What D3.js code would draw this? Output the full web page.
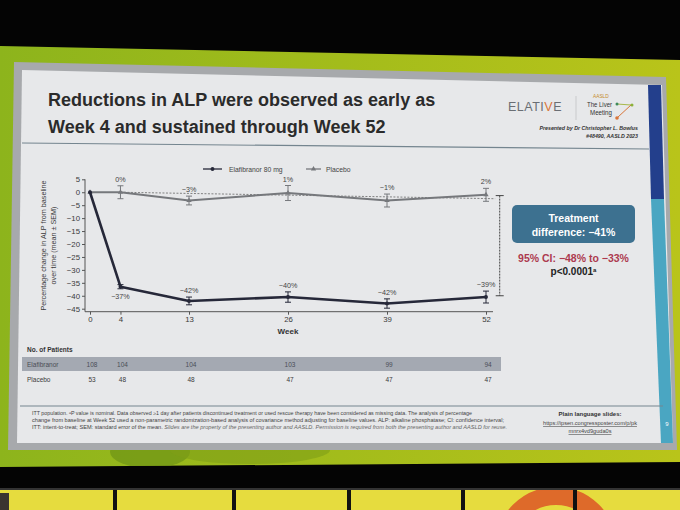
<!DOCTYPE html>
<html>
<head>
<meta charset="utf-8">
<script src="https://cdn.jsdelivr.net/npm/d3@7"></script>
<style>
  body { margin: 0; background: #000; }
  svg { display: block; font-family: "Liberation Sans", Arial, sans-serif; }
</style>
</head>
<body>
<div id="slide"></div>
<script>
// chart data
const weeks = [0, 4, 13, 26, 39, 52];
const elafMean = [0, -36.5, -42, -40.5, -43, -40.5];
const elafSem = [0, 0.8, 1.5, 2, 1.8, 2.3];
const placeboMean = [0, 0, -3.2, -0.3, -3.2, -1];
const placeboSem = [0, 2.5, 1.7, 2.9, 2.5, 2.5];
const elafLabels = ["", "−37%", "−42%", "−40%", "−42%", "−39%"];
const placeboLabels = ["", "0%", "−3%", "1%", "−1%", "2%"];
const elafN = [108, 104, 104, 103, 99, 94];
const placeboN = [53, 48, 48, 47, 47, 47];
const yTickValues = [5, 0, -5, -10, -15, -20, -25, -30, -35, -40, -45];
const placeboRefWeeks = [4, 53.2];
const placeboRefValues = [0, -2.5];
const bracketValues = [-1.3, -40];

const width = 680, height = 510;

let svg = d3.select("#slide")
    .append("svg")
    .attr("width", width)
    .attr("height", height);

// ---- room / screen background ----
let defs = svg.append("defs");
let grad = defs.append("linearGradient").attr("id", "green").attr("x1", 0).attr("x2", 1);
grad.append("stop").attr("offset", "0%").attr("stop-color", "#8db41c");
grad.append("stop").attr("offset", "100%").attr("stop-color", "#b9c41a");

svg.append("rect").attr("width", width).attr("height", height).attr("fill", "#040404");
svg.append("polygon")
    .attr("points", "0,46 680,60 680,462 0,467")
    .attr("fill", "url(#green)");
// darker shading near the bottom of the green backdrop
svg.append("clipPath").attr("id", "greenclip")
    .append("polygon").attr("points", "0,449 680,449 680,462 0,467");
let shade = svg.append("g").attr("clip-path", "url(#greenclip)");
shade.append("ellipse").attr("cx", 150).attr("cy", 452).attr("rx", 40).attr("ry", 16).attr("fill", "#6e9316").attr("opacity", 0.7);
shade.append("ellipse").attr("cx", 250).attr("cy", 450).attr("rx", 80).attr("ry", 14).attr("fill", "#7f9f17").attr("opacity", 0.6);

// stage panels under the screen
let panels = [0, 115, 234, 349, 463, 575];
svg.append("clipPath").attr("id", "stage")
    .append("rect").attr("x", 0).attr("y", 490).attr("width", width).attr("height", 20);
let stage = svg.append("g").attr("clip-path", "url(#stage)");
stage.append("rect").attr("x", 0).attr("y", 490).attr("width", width).attr("height", 20).attr("fill", "#e6dc3e");
stage.append("circle").attr("cx", 556).attr("cy", 548).attr("r", 52)
    .attr("fill", "none").attr("stroke", "#de6a2a").attr("stroke-width", 18);
panels.slice(1).forEach(function(px) {
    stage.append("rect").attr("x", px - 2).attr("y", 488).attr("width", 4).attr("height", 22).attr("fill", "#111");
});
svg.append("rect").attr("x", 0).attr("y", 488).attr("width", width).attr("height", 2).attr("fill", "#333");
stage.append("rect").attr("x", 0).attr("y", 493).attr("width", 9).attr("height", 17).attr("fill", "#3a3430");

// slide frame and slide
svg.append("polygon").attr("points", "14,62 666,77 677,450 8,450").attr("fill", "#a7a9ac");
svg.append("polygon").attr("points", "22,70 662,85 673,443 17,443").attr("fill", "#e7e8ea");
svg.append("polygon").attr("points", "648,85 661,85 664,199 651,199").attr("fill", "#233f8c");
svg.append("polygon").attr("points", "651,199 664,199 673,443 661,443").attr("fill", "#4aa6c2");

// ---- header ----
svg.append("text").attr("x", 48).attr("y", 106)
    .style("font-size", "18px").style("font-weight", "bold").attr("fill", "#2b2b2b")
    .text("Reductions in ALP were observed as early as");
svg.append("text").attr("x", 48).attr("y", 133)
    .style("font-size", "18px").style("font-weight", "bold").attr("fill", "#2b2b2b")
    .text("Week 4 and sustained through Week 52");
svg.append("line").attr("x1", 22).attr("y1", 143).attr("x2", 649).attr("y2", 149)
    .attr("stroke", "#74858f").attr("stroke-width", 1.2);

// logos
let logo = svg.append("text").attr("x", 508).attr("y", 111)
    .style("font-size", "12.5px").style("letter-spacing", "0.5px").attr("fill", "#6a6e74");
logo.append("tspan").text("ELATI");
logo.append("tspan").attr("fill", "#d9763a").text("V");
logo.append("tspan").text("E");
svg.append("line").attr("x1", 576).attr("y1", 96).attr("x2", 576).attr("y2", 120).attr("stroke", "#c9cacc");
svg.append("text").attr("x", 593).attr("y", 98).style("font-size", "4.8px").attr("fill", "#c58a2a").text("AASLD");
svg.append("text").attr("x", 587).attr("y", 107).attr("textLength", 25).attr("lengthAdjust", "spacingAndGlyphs")
    .style("font-size", "7px").attr("fill", "#333").text("The Liver");
svg.append("text").attr("x", 590).attr("y", 115).attr("textLength", 22).attr("lengthAdjust", "spacingAndGlyphs")
    .style("font-size", "7px").attr("fill", "#333").text("Meeting");
svg.append("line").attr("x1", 617).attr("y1", 104).attr("x2", 631).attr("y2", 105).attr("stroke", "#a8b84a");
svg.append("line").attr("x1", 631).attr("y1", 105).attr("x2", 618).attr("y2", 117).attr("stroke", "#d9763a");
svg.append("circle").attr("cx", 617).attr("cy", 104).attr("r", 1.5).attr("fill", "#3f8a5a");
svg.append("circle").attr("cx", 632).attr("cy", 105).attr("r", 1.5).attr("fill", "#8bb23a");
svg.append("circle").attr("cx", 617).attr("cy", 118).attr("r", 1.8).attr("fill", "#d9763a");
svg.append("text").attr("x", 638).attr("y", 130).style("text-anchor", "end")
    .style("font-size", "5.3px").style("font-style", "italic").style("font-weight", "bold").attr("fill", "#333")
    .text("Presented by Dr Christopher L. Bowlus");
svg.append("text").attr("x", 638).attr("y", 138).style("text-anchor", "end")
    .style("font-size", "5.3px").style("font-style", "italic").style("font-weight", "bold").attr("fill", "#333")
    .text("#48490, AASLD 2023");

// ---- chart ----
let x = d3.scaleLinear().domain([0, 52]).range([90, 486]);
let y = d3.scaleLinear().domain([-45, 5]).range([308.7, 179.3]);
const axisY = 311.7, axisX = 85;

let chart = svg.append("g");

// axes
chart.append("g")
    .attr("transform", `translate(${axisX}, 0)`)
    .call(d3.axisLeft(y).tickValues(yTickValues).tickSize(3).tickPadding(2)
        .tickFormat(d => d < 0 ? "−" + Math.abs(d) : d))
    .call(g => g.select(".domain").remove())
    .call(g => g.selectAll("text").style("font-size", "7.8px").attr("fill", "#3a3a3a"))
    .call(g => g.selectAll("line").attr("stroke", "#555"));
chart.append("line").attr("x1", axisX).attr("x2", axisX).attr("y1", y(5)).attr("y2", axisY)
    .attr("stroke", "#555");

chart.append("g")
    .attr("transform", `translate(0, ${axisY})`)
    .call(d3.axisBottom(x).tickValues(weeks).tickSize(3).tickPadding(2))
    .call(g => g.select(".domain").remove())
    .call(g => g.selectAll("text").style("font-size", "7.8px").attr("fill", "#3a3a3a"))
    .call(g => g.selectAll("line").attr("stroke", "#555"));
chart.append("line").attr("x1", axisX).attr("x2", 493).attr("y1", axisY).attr("y2", axisY)
    .attr("stroke", "#555");

// axis titles
chart.append("text")
    .attr("x", 288).attr("y", 334)
    .style("text-anchor", "middle").style("font-size", "8px").style("font-weight", "bold").attr("fill", "#333")
    .text("Week");
chart.append("text")
    .attr("transform", `translate(46, ${(y(5) + axisY) / 2}) rotate(-90)`)
    .style("text-anchor", "middle").style("font-size", "7.2px").attr("fill", "#3a3a3a")
    .text("Percentage change in ALP from baseline");
chart.append("text")
    .attr("transform", `translate(56, ${(y(5) + axisY) / 2}) rotate(-90)`)
    .style("text-anchor", "middle").style("font-size", "7.2px").attr("fill", "#3a3a3a")
    .text("over time (mean ± SEM)");

// placebo reference dashed line
chart.append("line")
    .attr("x1", x(placeboRefWeeks[0])).attr("y1", y(placeboRefValues[0]))
    .attr("x2", x(placeboRefWeeks[1])).attr("y2", y(placeboRefValues[1]))
    .attr("stroke", "#666").attr("stroke-width", 0.8).attr("stroke-dasharray", "2,1.5");

// treatment difference bracket
let bx = x(53.8);
chart.append("line").attr("x1", bx).attr("x2", bx)
    .attr("y1", y(bracketValues[0])).attr("y2", y(bracketValues[1]))
    .attr("stroke", "#444").attr("stroke-width", 1).attr("stroke-dasharray", "2,1");
bracketValues.forEach(function(v) {
    chart.append("line").attr("x1", bx - 4).attr("x2", bx + 4).attr("y1", y(v)).attr("y2", y(v))
        .attr("stroke", "#444").attr("stroke-width", 1);
});

function drawSeries(mean, sem, color, lw, marker) {
    let pts = weeks.map((w, i) => [w, mean[i], sem[i]]);
    chart.append("path")
        .datum(pts)
        .attr("fill", "none")
        .attr("stroke", color)
        .attr("stroke-width", lw)
        .attr("stroke-linejoin", "round")
        .attr("d", d3.line().x(d => x(d[0])).y(d => y(d[1])));
    let bars = chart.append("g").selectAll("g").data(pts.filter(d => d[2] > 0)).enter().append("g");
    bars.append("line")
        .attr("x1", d => x(d[0])).attr("x2", d => x(d[0]))
        .attr("y1", d => y(d[1] + d[2])).attr("y2", d => y(d[1] - d[2]))
        .attr("stroke", color).attr("stroke-width", 1);
    [1, -1].forEach(function(s) {
        bars.append("line")
            .attr("x1", d => x(d[0]) - 3).attr("x2", d => x(d[0]) + 3)
            .attr("y1", d => y(d[1] + s * d[2])).attr("y2", d => y(d[1] + s * d[2]))
            .attr("stroke", color).attr("stroke-width", 1);
    });
    chart.append("g").selectAll("path").data(pts).enter()
        .append("path")
        .attr("transform", d => `translate(${x(d[0])}, ${y(d[1])})`)
        .attr("d", d3.symbol().type(marker).size(12))
        .attr("fill", color);
}

drawSeries(placeboMean, placeboSem, "#76787c", 2, d3.symbolTriangle);
drawSeries(elafMean, elafSem, "#262839", 2.6, d3.symbolCircle);

// value labels
chart.append("g").selectAll("text").data(weeks).enter()
    .append("text")
    .attr("x", d => x(d))
    .attr("y", (d, i) => y(placeboMean[i] + placeboSem[i]) - 4)
    .style("text-anchor", "middle").style("font-size", "7.2px").attr("fill", "#444")
    .text((d, i) => placeboLabels[i]);
chart.append("g").selectAll("text").data(weeks).enter()
    .append("text")
    .attr("x", d => x(d))
    .attr("y", (d, i) => i === 1 ? y(elafMean[i] - elafSem[i]) + 10 : y(elafMean[i] + elafSem[i]) - 4)
    .style("text-anchor", "middle").style("font-size", "7.2px").attr("fill", "#444")
    .text((d, i) => elafLabels[i]);

// legend
let legend = chart.append("g");
legend.append("line").attr("x1", 203).attr("x2", 222).attr("y1", 169).attr("y2", 169).attr("stroke", "#262839").attr("stroke-width", 1.3);
legend.append("path").attr("transform", "translate(212.5,169)").attr("d", d3.symbol().type(d3.symbolCircle).size(12)).attr("fill", "#262839");
legend.append("text").attr("x", 229).attr("y", 171.5).style("font-size", "6.8px").attr("fill", "#444").text("Elafibranor 80 mg");
legend.append("line").attr("x1", 306).attr("x2", 321).attr("y1", 169).attr("y2", 169).attr("stroke", "#76787c").attr("stroke-width", 1.3);
legend.append("path").attr("transform", "translate(313.5,169)").attr("d", d3.symbol().type(d3.symbolTriangle).size(12)).attr("fill", "#76787c");
legend.append("text").attr("x", 326).attr("y", 171.5).style("font-size", "6.8px").attr("fill", "#444").text("Placebo");

// ---- number of patients table ----
svg.append("text").attr("x", 27).attr("y", 351.5)
    .style("font-size", "6.5px").style("font-weight", "bold").attr("fill", "#333").text("No. of Patients");
svg.append("rect").attr("x", 22).attr("y", 357).attr("width", 479).attr("height", 14).attr("fill", "#a4a9b2");
svg.append("text").attr("x", 27).attr("y", 366.5).style("font-size", "6.5px").attr("fill", "#4a4e57").text("Elafibranor");
svg.append("text").attr("x", 27).attr("y", 381.5).style("font-size", "6.5px").attr("fill", "#3a3a3a").text("Placebo");
svg.append("g").selectAll("text").data(weeks).enter()
    .append("text")
    .attr("x", d => x(d) + 2).attr("y", 366.5)
    .style("text-anchor", "middle").style("font-size", "6.5px").attr("fill", "#4a4e57")
    .text((d, i) => elafN[i]);
svg.append("g").selectAll("text").data(weeks).enter()
    .append("text")
    .attr("x", d => x(d) + 2).attr("y", 381.5)
    .style("text-anchor", "middle").style("font-size", "6.5px").attr("fill", "#3a3a3a")
    .text((d, i) => placeboN[i]);

// ---- treatment difference panel ----
svg.append("rect").attr("x", 512).attr("y", 205).attr("width", 123).attr("height", 38).attr("rx", 5)
    .attr("fill", "#3d7190");
svg.append("text").attr("x", 573.5).attr("y", 221.5).style("text-anchor", "middle")
    .style("font-size", "10.5px").style("font-weight", "bold").attr("fill", "#fff").text("Treatment");
svg.append("text").attr("x", 573.5).attr("y", 236).style("text-anchor", "middle")
    .style("font-size", "10.5px").style("font-weight", "bold").attr("fill", "#fff").text("difference: −41%");
svg.append("text").attr("x", 573.5).attr("y", 261.5).style("text-anchor", "middle")
    .style("font-size", "10.5px").style("font-weight", "bold").attr("fill", "#ad3a4f").text("95% CI: −48% to −33%");
let pval = svg.append("text").attr("x", 573.5).attr("y", 275).style("text-anchor", "middle")
    .style("font-size", "10px").style("font-weight", "bold").attr("fill", "#222");
pval.append("tspan").text("p<0.0001");
pval.append("tspan").attr("dy", -3.5).style("font-size", "6px").text("a");

// ---- footnote ----
svg.append("line").attr("x1", 20).attr("x2", 663).attr("y1", 406).attr("y2", 406)
    .attr("stroke", "#74858f").attr("stroke-width", 1);
const footLines = [
    "ITT population. ᵃP value is nominal. Data observed ≥1 day after patients discontinued treatment or used rescue therapy have been considered as missing data. The analysis of percentage",
    "change from baseline at Week 52 used a non-parametric randomization-based analysis of covariance method adjusting for baseline values. ALP: alkaline phosphatase; CI: confidence interval;"
];
footLines.forEach(function(t, i) {
    svg.append("text").attr("x", 32).attr("y", 415 + i * 7)
        .style("font-size", "4.6px").attr("fill", "#444")
        .attr("textLength", i === 0 ? 440 : 472).attr("lengthAdjust", "spacingAndGlyphs")
        .text(t);
});
let foot3 = svg.append("text").attr("x", 32).attr("y", 429)
    .style("font-size", "4.6px").attr("fill", "#444")
    .attr("textLength", 475).attr("lengthAdjust", "spacingAndGlyphs");
foot3.append("tspan").text("ITT: intent-to-treat; SEM: standard error of the mean. ");
foot3.append("tspan").style("font-style", "italic").attr("fill", "#666")
    .text("Slides are the property of the presenting author and AASLD. Permission is required from both the presenting author and AASLD for reuse.");

svg.append("text").attr("x", 590).attr("y", 416).style("text-anchor", "middle")
    .style("font-size", "6px").style("font-weight", "bold").attr("fill", "#333").text("Plain language slides:");
svg.append("text").attr("x", 590).attr("y", 425).style("text-anchor", "middle")
    .style("font-size", "5.6px").style("text-decoration", "underline").attr("fill", "#444")
    .text("https://ipsen.congressposter.com/p/pk");
svg.append("text").attr("x", 590).attr("y", 433).style("text-anchor", "middle")
    .style("font-size", "5.6px").style("text-decoration", "underline").attr("fill", "#444")
    .text("mnrx4vd9guda0s");
svg.append("text").attr("x", 667).attr("y", 426).style("text-anchor", "middle")
    .style("font-size", "6px").attr("fill", "#fff").text("9");
</script>
</body>
</html>
